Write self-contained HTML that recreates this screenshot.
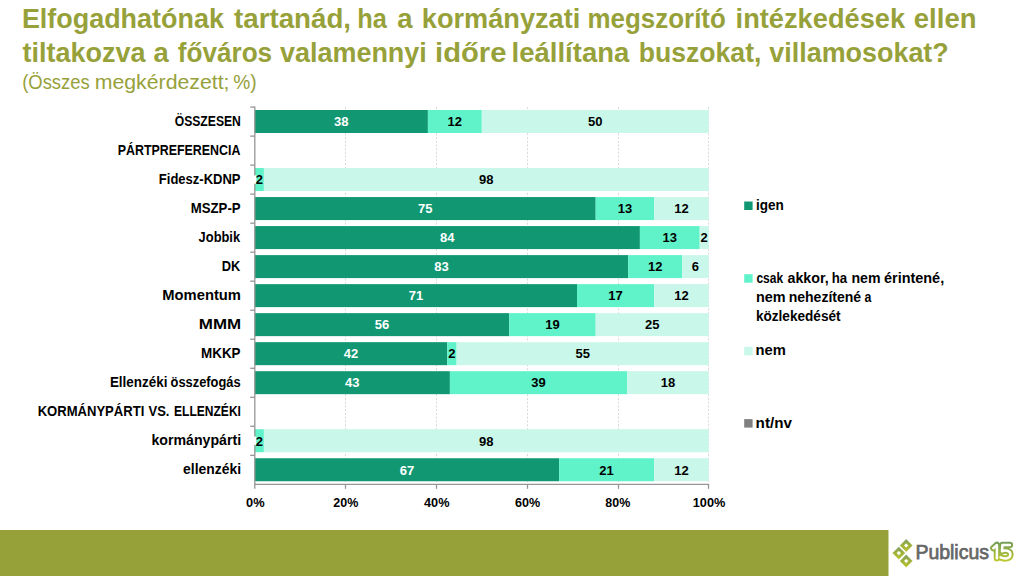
<!DOCTYPE html>
<html><head><meta charset="utf-8"><title>Publicus</title>
<style>html,body{margin:0;padding:0;background:#fff;width:1024px;height:576px;overflow:hidden}
svg{display:block;font-family:"Liberation Sans",sans-serif}</style></head>
<body><svg width="1024" height="576" viewBox="0 0 1024 576">
<text x="21.90" y="27.90" font-size="27" font-weight="bold" fill="#97A13A" textLength="201.98" lengthAdjust="spacingAndGlyphs">Elfogadhatónak</text>
<text x="234.06" y="27.90" font-size="27" font-weight="bold" fill="#97A13A" textLength="116.99" lengthAdjust="spacingAndGlyphs">tartanád,</text>
<text x="357.23" y="27.90" font-size="27" font-weight="bold" fill="#97A13A" textLength="29.61" lengthAdjust="spacingAndGlyphs">ha</text>
<text x="397.19" y="27.90" font-size="27" font-weight="bold" fill="#97A13A" textLength="15.33" lengthAdjust="spacingAndGlyphs">a</text>
<text x="421.80" y="27.90" font-size="27" font-weight="bold" fill="#97A13A" textLength="158.52" lengthAdjust="spacingAndGlyphs">kormányzati</text>
<text x="587.59" y="27.90" font-size="27" font-weight="bold" fill="#97A13A" textLength="138.22" lengthAdjust="spacingAndGlyphs">megszorító</text>
<text x="735.60" y="27.90" font-size="27" font-weight="bold" fill="#97A13A" textLength="169.47" lengthAdjust="spacingAndGlyphs">intézkedések</text>
<text x="913.83" y="27.90" font-size="27" font-weight="bold" fill="#97A13A" textLength="62.68" lengthAdjust="spacingAndGlyphs">ellen</text>
<text x="22.57" y="62.00" font-size="27" font-weight="bold" fill="#97A13A" textLength="122.96" lengthAdjust="spacingAndGlyphs">tiltakozva</text>
<text x="153.50" y="62.00" font-size="27" font-weight="bold" fill="#97A13A" textLength="15.23" lengthAdjust="spacingAndGlyphs">a</text>
<text x="177.75" y="62.00" font-size="27" font-weight="bold" fill="#97A13A" textLength="94.42" lengthAdjust="spacingAndGlyphs">főváros</text>
<text x="279.99" y="62.00" font-size="27" font-weight="bold" fill="#97A13A" textLength="146.81" lengthAdjust="spacingAndGlyphs">valamennyi</text>
<text x="435.06" y="62.00" font-size="27" font-weight="bold" fill="#97A13A" textLength="71.44" lengthAdjust="spacingAndGlyphs">időre</text>
<text x="511.58" y="62.00" font-size="27" font-weight="bold" fill="#97A13A" textLength="117.75" lengthAdjust="spacingAndGlyphs">leállítana</text>
<text x="638.75" y="62.00" font-size="27" font-weight="bold" fill="#97A13A" textLength="122.63" lengthAdjust="spacingAndGlyphs">buszokat,</text>
<text x="769.29" y="62.00" font-size="27" font-weight="bold" fill="#97A13A" textLength="179.46" lengthAdjust="spacingAndGlyphs">villamosokat?</text>
<text x="22.16" y="88.70" font-size="19.5" font-weight="normal" fill="#97A13A" textLength="67.61" lengthAdjust="spacingAndGlyphs">(Összes</text>
<text x="94.69" y="88.70" font-size="19.5" font-weight="normal" fill="#97A13A" textLength="134.82" lengthAdjust="spacingAndGlyphs">megkérdezett;</text>
<text x="233.22" y="88.70" font-size="19.5" font-weight="normal" fill="#97A13A" textLength="23.48" lengthAdjust="spacingAndGlyphs">%)</text>
<line x1="345.5" y1="107.1" x2="345.5" y2="484" stroke="#D9D9D9" stroke-width="1" stroke-dasharray="2 1.73"/>
<line x1="436.5" y1="107.1" x2="436.5" y2="484" stroke="#D9D9D9" stroke-width="1" stroke-dasharray="2 1.73"/>
<line x1="527.5" y1="107.1" x2="527.5" y2="484" stroke="#D9D9D9" stroke-width="1" stroke-dasharray="2 1.73"/>
<line x1="618.5" y1="107.1" x2="618.5" y2="484" stroke="#D9D9D9" stroke-width="1" stroke-dasharray="2 1.73"/>
<line x1="708.5" y1="107.1" x2="708.5" y2="484" stroke="#D9D9D9" stroke-width="1" stroke-dasharray="2 1.73"/>
<text x="174.70" y="126.20" font-size="14" font-weight="bold" fill="#000" textLength="66.22" lengthAdjust="spacingAndGlyphs">ÖSSZESEN</text>
<text x="117.77" y="155.22" font-size="14" font-weight="bold" fill="#000" textLength="122.66" lengthAdjust="spacingAndGlyphs">PÁRTPREFERENCIA</text>
<text x="158.83" y="184.24" font-size="14" font-weight="bold" fill="#000" textLength="81.72" lengthAdjust="spacingAndGlyphs">Fidesz-KDNP</text>
<text x="190.82" y="213.26" font-size="14" font-weight="bold" fill="#000" textLength="49.73" lengthAdjust="spacingAndGlyphs">MSZP-P</text>
<text x="198.61" y="242.28" font-size="14" font-weight="bold" fill="#000" textLength="41.48" lengthAdjust="spacingAndGlyphs">Jobbik</text>
<text x="221.64" y="271.30" font-size="14" font-weight="bold" fill="#000" textLength="18.58" lengthAdjust="spacingAndGlyphs">DK</text>
<text x="162.31" y="300.32" font-size="14" font-weight="bold" fill="#000" textLength="78.70" lengthAdjust="spacingAndGlyphs">Momentum</text>
<text x="198.87" y="329.34" font-size="14" font-weight="bold" fill="#000" textLength="42.37" lengthAdjust="spacingAndGlyphs">MMM</text>
<text x="201.00" y="358.36" font-size="14" font-weight="bold" fill="#000" textLength="39.56" lengthAdjust="spacingAndGlyphs">MKKP</text>
<text x="109.90" y="387.38" font-size="14" font-weight="bold" fill="#000" textLength="57.55" lengthAdjust="spacingAndGlyphs">Ellenzéki</text>
<text x="170.60" y="387.38" font-size="14" font-weight="bold" fill="#000" textLength="70.03" lengthAdjust="spacingAndGlyphs">összefogás</text>
<text x="37.63" y="416.40" font-size="14" font-weight="bold" fill="#000" textLength="106.65" lengthAdjust="spacingAndGlyphs">KORMÁNYPÁRTI</text>
<text x="148.51" y="416.40" font-size="14" font-weight="bold" fill="#000" textLength="20.99" lengthAdjust="spacingAndGlyphs">VS.</text>
<text x="174.10" y="416.40" font-size="14" font-weight="bold" fill="#000" textLength="66.81" lengthAdjust="spacingAndGlyphs">ELLENZÉKI</text>
<text x="151.41" y="445.42" font-size="14" font-weight="bold" fill="#000" textLength="89.69" lengthAdjust="spacingAndGlyphs">kormánypárti</text>
<text x="183.06" y="474.44" font-size="14" font-weight="bold" fill="#000" textLength="58.03" lengthAdjust="spacingAndGlyphs">ellenzéki</text>
<rect x="254.80" y="110.00" width="173.10" height="23.0" fill="#119873"/>
<rect x="427.90" y="110.00" width="53.90" height="23.0" fill="#60F3C9"/>
<rect x="481.80" y="110.00" width="226.90" height="23.0" fill="#C9F8EA"/>
<rect x="254.80" y="168.04" width="9.10" height="23.0" fill="#60F3C9"/>
<rect x="263.90" y="168.04" width="444.80" height="23.0" fill="#C9F8EA"/>
<rect x="254.80" y="197.06" width="340.90" height="23.0" fill="#119873"/>
<rect x="595.70" y="197.06" width="58.40" height="23.0" fill="#60F3C9"/>
<rect x="654.10" y="197.06" width="54.60" height="23.0" fill="#C9F8EA"/>
<rect x="254.80" y="226.08" width="385.10" height="23.0" fill="#119873"/>
<rect x="639.90" y="226.08" width="59.80" height="23.0" fill="#60F3C9"/>
<rect x="699.70" y="226.08" width="9.00" height="23.0" fill="#C9F8EA"/>
<rect x="254.80" y="255.10" width="373.40" height="23.0" fill="#119873"/>
<rect x="628.20" y="255.10" width="54.00" height="23.0" fill="#60F3C9"/>
<rect x="682.20" y="255.10" width="26.50" height="23.0" fill="#C9F8EA"/>
<rect x="254.80" y="284.12" width="322.20" height="23.0" fill="#119873"/>
<rect x="577.00" y="284.12" width="77.10" height="23.0" fill="#60F3C9"/>
<rect x="654.10" y="284.12" width="54.60" height="23.0" fill="#C9F8EA"/>
<rect x="254.80" y="313.14" width="254.40" height="23.0" fill="#119873"/>
<rect x="509.20" y="313.14" width="86.50" height="23.0" fill="#60F3C9"/>
<rect x="595.70" y="313.14" width="113.00" height="23.0" fill="#C9F8EA"/>
<rect x="254.80" y="342.16" width="192.40" height="23.0" fill="#119873"/>
<rect x="447.20" y="342.16" width="9.40" height="23.0" fill="#60F3C9"/>
<rect x="456.60" y="342.16" width="252.10" height="23.0" fill="#C9F8EA"/>
<rect x="254.80" y="371.18" width="195.10" height="23.0" fill="#119873"/>
<rect x="449.90" y="371.18" width="177.20" height="23.0" fill="#60F3C9"/>
<rect x="627.10" y="371.18" width="81.60" height="23.0" fill="#C9F8EA"/>
<rect x="254.80" y="429.22" width="9.10" height="23.0" fill="#60F3C9"/>
<rect x="263.90" y="429.22" width="444.80" height="23.0" fill="#C9F8EA"/>
<rect x="254.80" y="458.24" width="304.30" height="23.0" fill="#119873"/>
<rect x="559.10" y="458.24" width="95.00" height="23.0" fill="#60F3C9"/>
<rect x="654.10" y="458.24" width="54.60" height="23.0" fill="#C9F8EA"/>
<line x1="254.8" y1="106.5" x2="254.8" y2="488.8" stroke="#969696" stroke-width="1.3"/>
<line x1="254" y1="484.4" x2="709.2" y2="484.4" stroke="#969696" stroke-width="1.3"/>
<line x1="250.2" y1="107.10" x2="254.8" y2="107.10" stroke="#969696" stroke-width="1.3"/>
<line x1="250.2" y1="136.12" x2="254.8" y2="136.12" stroke="#969696" stroke-width="1.3"/>
<line x1="250.2" y1="165.14" x2="254.8" y2="165.14" stroke="#969696" stroke-width="1.3"/>
<line x1="250.2" y1="194.16" x2="254.8" y2="194.16" stroke="#969696" stroke-width="1.3"/>
<line x1="250.2" y1="223.18" x2="254.8" y2="223.18" stroke="#969696" stroke-width="1.3"/>
<line x1="250.2" y1="252.20" x2="254.8" y2="252.20" stroke="#969696" stroke-width="1.3"/>
<line x1="250.2" y1="281.22" x2="254.8" y2="281.22" stroke="#969696" stroke-width="1.3"/>
<line x1="250.2" y1="310.24" x2="254.8" y2="310.24" stroke="#969696" stroke-width="1.3"/>
<line x1="250.2" y1="339.26" x2="254.8" y2="339.26" stroke="#969696" stroke-width="1.3"/>
<line x1="250.2" y1="368.28" x2="254.8" y2="368.28" stroke="#969696" stroke-width="1.3"/>
<line x1="250.2" y1="397.30" x2="254.8" y2="397.30" stroke="#969696" stroke-width="1.3"/>
<line x1="250.2" y1="426.32" x2="254.8" y2="426.32" stroke="#969696" stroke-width="1.3"/>
<line x1="250.2" y1="455.34" x2="254.8" y2="455.34" stroke="#969696" stroke-width="1.3"/>
<line x1="345.5" y1="484.4" x2="345.5" y2="488.8" stroke="#969696" stroke-width="1.3"/>
<line x1="436.5" y1="484.4" x2="436.5" y2="488.8" stroke="#969696" stroke-width="1.3"/>
<line x1="527.5" y1="484.4" x2="527.5" y2="488.8" stroke="#969696" stroke-width="1.3"/>
<line x1="618.5" y1="484.4" x2="618.5" y2="488.8" stroke="#969696" stroke-width="1.3"/>
<line x1="708.5" y1="484.4" x2="708.5" y2="488.8" stroke="#969696" stroke-width="1.3"/>
<rect x="253.7" y="175.34" width="2.6" height="8.4" fill="#FFFFFF"/>
<rect x="253.7" y="436.52" width="2.6" height="8.4" fill="#FFFFFF"/>
<text x="341.35" y="126.30" font-size="13.5" font-weight="bold" fill="#FFF" text-anchor="middle" textLength="14.49" lengthAdjust="spacingAndGlyphs">38</text>
<text x="454.85" y="126.30" font-size="13.5" font-weight="bold" fill="#000" text-anchor="middle" textLength="14.49" lengthAdjust="spacingAndGlyphs">12</text>
<text x="595.25" y="126.30" font-size="13.5" font-weight="bold" fill="#000" text-anchor="middle" textLength="14.49" lengthAdjust="spacingAndGlyphs">50</text>
<text x="259.35" y="184.34" font-size="13.5" font-weight="bold" fill="#000" text-anchor="middle" textLength="7.25" lengthAdjust="spacingAndGlyphs">2</text>
<text x="486.30" y="184.34" font-size="13.5" font-weight="bold" fill="#000" text-anchor="middle" textLength="14.49" lengthAdjust="spacingAndGlyphs">98</text>
<text x="425.25" y="213.36" font-size="13.5" font-weight="bold" fill="#FFF" text-anchor="middle" textLength="14.49" lengthAdjust="spacingAndGlyphs">75</text>
<text x="624.90" y="213.36" font-size="13.5" font-weight="bold" fill="#000" text-anchor="middle" textLength="14.49" lengthAdjust="spacingAndGlyphs">13</text>
<text x="681.40" y="213.36" font-size="13.5" font-weight="bold" fill="#000" text-anchor="middle" textLength="14.49" lengthAdjust="spacingAndGlyphs">12</text>
<text x="447.35" y="242.38" font-size="13.5" font-weight="bold" fill="#FFF" text-anchor="middle" textLength="14.49" lengthAdjust="spacingAndGlyphs">84</text>
<text x="669.80" y="242.38" font-size="13.5" font-weight="bold" fill="#000" text-anchor="middle" textLength="14.49" lengthAdjust="spacingAndGlyphs">13</text>
<text x="704.20" y="242.38" font-size="13.5" font-weight="bold" fill="#000" text-anchor="middle" textLength="7.25" lengthAdjust="spacingAndGlyphs">2</text>
<text x="441.50" y="271.40" font-size="13.5" font-weight="bold" fill="#FFF" text-anchor="middle" textLength="14.49" lengthAdjust="spacingAndGlyphs">83</text>
<text x="655.20" y="271.40" font-size="13.5" font-weight="bold" fill="#000" text-anchor="middle" textLength="14.49" lengthAdjust="spacingAndGlyphs">12</text>
<text x="695.45" y="271.40" font-size="13.5" font-weight="bold" fill="#000" text-anchor="middle" textLength="7.25" lengthAdjust="spacingAndGlyphs">6</text>
<text x="415.90" y="300.42" font-size="13.5" font-weight="bold" fill="#FFF" text-anchor="middle" textLength="14.49" lengthAdjust="spacingAndGlyphs">71</text>
<text x="615.55" y="300.42" font-size="13.5" font-weight="bold" fill="#000" text-anchor="middle" textLength="14.49" lengthAdjust="spacingAndGlyphs">17</text>
<text x="681.40" y="300.42" font-size="13.5" font-weight="bold" fill="#000" text-anchor="middle" textLength="14.49" lengthAdjust="spacingAndGlyphs">12</text>
<text x="382.00" y="329.44" font-size="13.5" font-weight="bold" fill="#FFF" text-anchor="middle" textLength="14.49" lengthAdjust="spacingAndGlyphs">56</text>
<text x="552.45" y="329.44" font-size="13.5" font-weight="bold" fill="#000" text-anchor="middle" textLength="14.49" lengthAdjust="spacingAndGlyphs">19</text>
<text x="652.20" y="329.44" font-size="13.5" font-weight="bold" fill="#000" text-anchor="middle" textLength="14.49" lengthAdjust="spacingAndGlyphs">25</text>
<text x="351.00" y="358.46" font-size="13.5" font-weight="bold" fill="#FFF" text-anchor="middle" textLength="14.49" lengthAdjust="spacingAndGlyphs">42</text>
<text x="451.90" y="358.46" font-size="13.5" font-weight="bold" fill="#000" text-anchor="middle" textLength="7.25" lengthAdjust="spacingAndGlyphs">2</text>
<text x="582.65" y="358.46" font-size="13.5" font-weight="bold" fill="#000" text-anchor="middle" textLength="14.49" lengthAdjust="spacingAndGlyphs">55</text>
<text x="352.35" y="387.48" font-size="13.5" font-weight="bold" fill="#FFF" text-anchor="middle" textLength="14.49" lengthAdjust="spacingAndGlyphs">43</text>
<text x="538.50" y="387.48" font-size="13.5" font-weight="bold" fill="#000" text-anchor="middle" textLength="14.49" lengthAdjust="spacingAndGlyphs">39</text>
<text x="667.90" y="387.48" font-size="13.5" font-weight="bold" fill="#000" text-anchor="middle" textLength="14.49" lengthAdjust="spacingAndGlyphs">18</text>
<text x="259.35" y="445.52" font-size="13.5" font-weight="bold" fill="#000" text-anchor="middle" textLength="7.25" lengthAdjust="spacingAndGlyphs">2</text>
<text x="486.30" y="445.52" font-size="13.5" font-weight="bold" fill="#000" text-anchor="middle" textLength="14.49" lengthAdjust="spacingAndGlyphs">98</text>
<text x="406.95" y="474.54" font-size="13.5" font-weight="bold" fill="#FFF" text-anchor="middle" textLength="14.49" lengthAdjust="spacingAndGlyphs">67</text>
<text x="606.60" y="474.54" font-size="13.5" font-weight="bold" fill="#000" text-anchor="middle" textLength="14.49" lengthAdjust="spacingAndGlyphs">21</text>
<text x="681.40" y="474.54" font-size="13.5" font-weight="bold" fill="#000" text-anchor="middle" textLength="14.49" lengthAdjust="spacingAndGlyphs">12</text>
<text x="246.09" y="506.70" font-size="13.6" font-weight="bold" fill="#000" textLength="18.55" lengthAdjust="spacingAndGlyphs">0%</text>
<text x="333.27" y="506.70" font-size="13.6" font-weight="bold" fill="#000" textLength="24.96" lengthAdjust="spacingAndGlyphs">20%</text>
<text x="424.01" y="506.70" font-size="13.6" font-weight="bold" fill="#000" textLength="25.43" lengthAdjust="spacingAndGlyphs">40%</text>
<text x="514.94" y="506.70" font-size="13.6" font-weight="bold" fill="#000" textLength="25.19" lengthAdjust="spacingAndGlyphs">60%</text>
<text x="605.30" y="506.70" font-size="13.6" font-weight="bold" fill="#000" textLength="24.92" lengthAdjust="spacingAndGlyphs">80%</text>
<text x="692.70" y="506.70" font-size="13.6" font-weight="bold" fill="#000" textLength="32.64" lengthAdjust="spacingAndGlyphs">100%</text>
<rect x="744.2" y="201.5" width="8.4" height="8.5" fill="#119873"/>
<rect x="744.2" y="274.2" width="8.4" height="8.5" fill="#60F3C9"/>
<rect x="744.2" y="346.8" width="8.4" height="8.5" fill="#C9F8EA"/>
<rect x="744.2" y="419.1" width="8.4" height="8.5" fill="#808080"/>
<text x="755.96" y="209.90" font-size="14" font-weight="bold" fill="#000" textLength="27.78" lengthAdjust="spacingAndGlyphs">igen</text>
<text x="756.43" y="282.90" font-size="14" font-weight="bold" fill="#000" textLength="26.66" lengthAdjust="spacingAndGlyphs">csak</text>
<text x="787.49" y="282.90" font-size="14" font-weight="bold" fill="#000" textLength="41.14" lengthAdjust="spacingAndGlyphs">akkor,</text>
<text x="831.68" y="282.90" font-size="14" font-weight="bold" fill="#000" textLength="15.44" lengthAdjust="spacingAndGlyphs">ha</text>
<text x="851.47" y="282.90" font-size="14" font-weight="bold" fill="#000" textLength="29.11" lengthAdjust="spacingAndGlyphs">nem</text>
<text x="884.04" y="282.90" font-size="14" font-weight="bold" fill="#000" textLength="60.13" lengthAdjust="spacingAndGlyphs">érintené,</text>
<text x="755.95" y="301.80" font-size="14" font-weight="bold" fill="#000" textLength="29.64" lengthAdjust="spacingAndGlyphs">nem</text>
<text x="788.68" y="301.80" font-size="14" font-weight="bold" fill="#000" textLength="72.50" lengthAdjust="spacingAndGlyphs">nehezítené</text>
<text x="864.44" y="301.80" font-size="14" font-weight="bold" fill="#000" textLength="6.88" lengthAdjust="spacingAndGlyphs">a</text>
<text x="755.95" y="320.80" font-size="14" font-weight="bold" fill="#000" textLength="84.61" lengthAdjust="spacingAndGlyphs">közlekedését</text>
<text x="755.63" y="355.20" font-size="14" font-weight="bold" fill="#000" textLength="30.28" lengthAdjust="spacingAndGlyphs">nem</text>
<text x="755.60" y="427.70" font-size="14" font-weight="bold" fill="#000" textLength="36.37" lengthAdjust="spacingAndGlyphs">nt/nv</text>
<rect x="0" y="530" width="888.5" height="46" fill="#97A13A"/>
<defs><linearGradient id="lg" x1="0" y1="0" x2="0" y2="1"><stop offset="0" stop-color="#7A9A5C"/><stop offset="1" stop-color="#B9C42E"/></linearGradient>
<linearGradient id="lg2" gradientUnits="userSpaceOnUse" x1="0" y1="541" x2="0" y2="562"><stop offset="0" stop-color="#6E9A5A"/><stop offset="1" stop-color="#C2CB2C"/></linearGradient></defs>
<linearGradient id="dg0" gradientUnits="userSpaceOnUse" x1="0" y1="539.3" x2="0" y2="551.7"><stop offset="0" stop-color="#7C9C64"/><stop offset="0.45" stop-color="#9DB03A"/><stop offset="1" stop-color="#B8C32C"/></linearGradient>
<path d="M906.2,539.3 L912.4000000000001,545.5 L906.2,551.7 L900.0,545.5 Z M906.2,543.2 L903.9000000000001,545.5 L906.2,547.8 L908.5,545.5 Z" fill="url(#dg0)" fill-rule="evenodd" stroke="url(#dg0)" stroke-width="0.3" stroke-linejoin="round"/>
<linearGradient id="dg1" gradientUnits="userSpaceOnUse" x1="0" y1="546.9" x2="0" y2="559.3000000000001"><stop offset="0" stop-color="#7C9C64"/><stop offset="0.45" stop-color="#9DB03A"/><stop offset="1" stop-color="#B8C32C"/></linearGradient>
<path d="M898.8,546.9 L905.0,553.1 L898.8,559.3000000000001 L892.5999999999999,553.1 Z M898.8,550.8000000000001 L896.5,553.1 L898.8,555.4 L901.0999999999999,553.1 Z" fill="url(#dg1)" fill-rule="evenodd" stroke="url(#dg1)" stroke-width="0.3" stroke-linejoin="round"/>
<linearGradient id="dg2" gradientUnits="userSpaceOnUse" x1="0" y1="554.8" x2="0" y2="567.2"><stop offset="0" stop-color="#7C9C64"/><stop offset="0.45" stop-color="#9DB03A"/><stop offset="1" stop-color="#B8C32C"/></linearGradient>
<path d="M906.2,554.8 L912.4000000000001,561.0 L906.2,567.2 L900.0,561.0 Z M906.2,558.7 L903.9000000000001,561.0 L906.2,563.3 L908.5,561.0 Z" fill="url(#dg2)" fill-rule="evenodd" stroke="url(#dg2)" stroke-width="0.3" stroke-linejoin="round"/>
<text stroke="#686868" stroke-width="0.75" x="915.40" y="559.30" font-size="20.3" font-weight="normal" fill="#666666" textLength="73.60" lengthAdjust="spacingAndGlyphs">Publicus</text>
<path d="M993.3,548.2 L996.9,545.0 L996.9,558.3 M1009.9,545.0 L1002.4,545.0 L1002.0,551.3 C1004.5,550.0 1010.4,550.2 1010.4,554.4 C1010.4,558.6 1004.5,559.3 1000.6,557.4" fill="none" stroke="url(#lg2)" stroke-width="6.4" stroke-linecap="round" stroke-linejoin="round"/>
<path d="M993.3,548.2 L996.9,545.0 L996.9,558.3 M1009.9,545.0 L1002.4,545.0 L1002.0,551.3 C1004.5,550.0 1010.4,550.2 1010.4,554.4 C1010.4,558.6 1004.5,559.3 1000.6,557.4" fill="none" stroke="#FFFFFF" stroke-width="2.5" stroke-linecap="round" stroke-linejoin="round"/>
</svg></body></html>
